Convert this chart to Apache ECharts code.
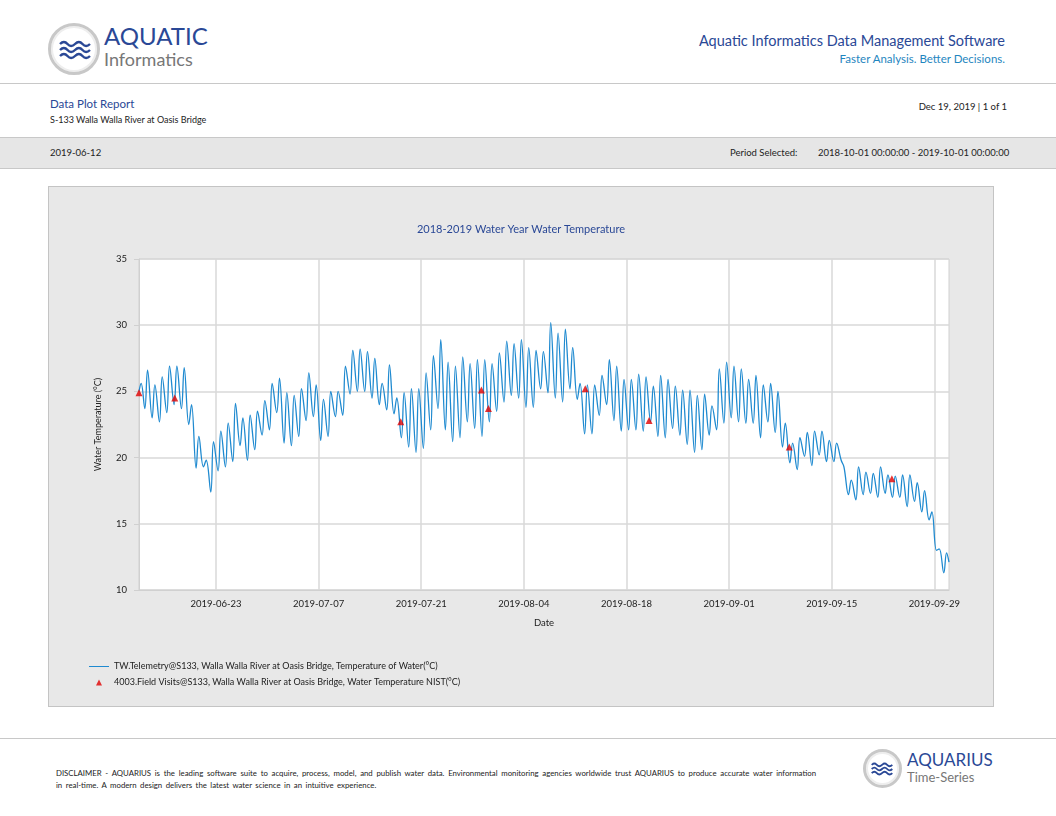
<!DOCTYPE html>
<html>
<head>
  <meta charset="utf-8">
  <title>Data Plot Report</title>
  <script src="https://cdn.jsdelivr.net/npm/echarts@6.0.0/dist/echarts.min.js"></script>
  <style>
    body { margin: 0; width: 1056px; height: 816px; background: #fff; font-family: Lato, 'Open Sans', sans-serif; position: relative; overflow: hidden; }
    .abs { position: absolute; white-space: nowrap; }
    .logo { width: 46px; height: 46px; border-radius: 50%; border: 3px solid #c8c8c8; background: #fff; box-shadow: inset 0 0 0 2px #eee; }
    .logo svg { position: absolute; left: 8px; top: 13px; }
    .blue { color: #2a4896; }
    #panel { left: 48px; top: 186px; width: 944px; height: 519px; background: #e8e8e8; border: 1px solid #c4c4c4; }
    #chart { left: 49px; top: 187px; width: 944px; height: 519px; }
  </style>
</head>
<body>
  <div class="abs logo" style="left:48px;top:23px;">
    <svg width="32" height="22" viewBox="0 0 32 22">
      <path d="M1 5 q4 -4 7.5 0 t7.5 0 t7.5 0 t7.5 0" stroke="#2a4896" stroke-width="2.4" fill="none"/>
      <path d="M1 11 q4 -4 7.5 0 t7.5 0 t7.5 0 t7.5 0" stroke="#2a4896" stroke-width="2.4" fill="none"/>
      <path d="M1 17 q4 -4 7.5 0 t7.5 0 t7.5 0 t7.5 0" stroke="#2a4896" stroke-width="2.4" fill="none"/>
    </svg>
  </div>
  <div class="abs blue" style="left:104px;top:22px;font-size:24px;line-height:28px;">AQUATIC</div>
  <div class="abs" style="left:104px;top:48px;font-size:18px;line-height:22px;color:#777;">Informatics</div>
  <div class="abs blue" style="right:51px;top:32px;font-size:14.5px;">Aquatic Informatics Data Management Software</div>
  <div class="abs" style="right:51px;top:52px;font-size:11.5px;color:#1f86c0;">Faster Analysis. Better Decisions.</div>
  <div class="abs" style="left:0;top:83px;width:1056px;height:1px;background:#c8c8c8;"></div>

  <div class="abs blue" style="left:50px;top:97px;font-size:11.5px;">Data Plot Report</div>
  <div class="abs" style="left:50px;top:114px;font-size:9px;color:#222;">S-133 Walla Walla River at Oasis Bridge</div>
  <div class="abs" style="right:49px;top:101px;font-size:9.5px;color:#222;">Dec 19, 2019 | 1 of 1</div>

  <div class="abs" style="left:0;top:137px;width:1056px;height:30px;background:#e6e6e6;border-top:1px solid #c8c8c8;border-bottom:1px solid #c8c8c8;"></div>
  <div class="abs" style="left:50px;top:147px;font-size:9.5px;color:#222;">2019-06-12</div>
  <div class="abs" style="left:730px;top:147px;font-size:9.5px;color:#222;">Period Selected:</div>
  <div class="abs" style="left:818px;top:147px;font-size:9.5px;color:#222;">2018-10-01 00:00:00 - 2019-10-01 00:00:00</div>

  <div class="abs" id="panel"></div>
  <div class="abs" id="chart"></div>

  <div class="abs" style="left:0;top:738px;width:1056px;height:1px;background:#c8c8c8;"></div>
  <div class="abs" style="left:56px;top:767px;width:760px;white-space:normal;text-align:justify;word-spacing:1.5px;font-size:7.8px;line-height:12px;color:#222;">DISCLAIMER - AQUARIUS is the leading software suite to acquire, process, model, and publish water data. Environmental monitoring agencies worldwide trust AQUARIUS to produce accurate water information in real-time. A modern design delivers the latest water science in an intuitive experience.</div>
  <div class="abs logo" style="left:863px;top:749px;width:33px;height:33px;">
    <svg width="22" height="16" viewBox="0 0 32 22" style="left:5px;top:9px;">
      <path d="M1 5 q4 -4 7.5 0 t7.5 0 t7.5 0 t7.5 0" stroke="#2a4896" stroke-width="2.6" fill="none"/>
      <path d="M1 11 q4 -4 7.5 0 t7.5 0 t7.5 0 t7.5 0" stroke="#2a4896" stroke-width="2.6" fill="none"/>
      <path d="M1 17 q4 -4 7.5 0 t7.5 0 t7.5 0 t7.5 0" stroke="#2a4896" stroke-width="2.6" fill="none"/>
    </svg>
  </div>
  <div class="abs blue" style="left:907px;top:750px;font-size:17px;line-height:19px;">AQUARIUS</div>
  <div class="abs" style="left:907px;top:770px;font-size:13px;line-height:15px;color:#777;">Time-Series</div>

  <script>
    // daily low (about 07:00) and high (about 16:00), from 2019-06-13
    const lows = [
      23.7, 23.0, 22.7, 23.4, 24.0, 23.7, 22.5, 19.2, 19.3, 17.4,   // Jun 13-22
      19.0, 19.3, 19.7, 20.9, 19.8, 20.6, 21.7, 22.1, 23.4, 21.1,   // Jun 23-Jul 2
      20.9, 21.6, 22.8, 23.1, 21.3, 21.6, 23.1, 23.2, 24.8, 25.0,   // Jul 3-12
      25.0, 24.5, 24.0, 23.6, 23.3, 21.5, 20.8, 20.4, 20.7, 22.1,   // Jul 13-22
      23.7, 22.1, 21.2, 21.5, 22.7, 22.2, 21.6, 22.7, 23.5, 24.2,   // Jul 23-Aug 1
      24.7, 24.5, 23.8, 23.8, 25.2, 24.9, 24.5, 24.2, 25.2, 24.4,   // Aug 2-11
      21.8, 21.8, 23.2, 24.0, 22.8, 22.0, 22.1, 22.1, 22.0, 22.7,   // Aug 12-21
      21.6, 21.5, 22.2, 21.7, 21.0, 20.4, 20.6, 21.7, 22.1, 22.6,   // Aug 22-31
      23.0, 22.7, 22.6, 22.6, 21.5, 22.7, 21.9, 20.8, 19.6, 19.1,   // Sep 1-10
      20.1, 19.4, 20.2, 19.7, 19.7, 19.8, 17.2, 16.8, 17.2, 17.3,   // Sep 11-20
      17.0, 17.3, 17.0, 17.0, 16.3, 16.7, 15.9, 15.3, 13.0, 11.3    // Sep 21-30
    ];
    const highs = [
      26.6, 25.5, 26.1, 26.9, 26.9, 26.8, 24.0, 21.6, 19.8, 21.2,
      22.0, 22.6, 24.1, 23.0, 23.2, 23.5, 24.3, 25.6, 26.0, 24.9,
      24.7, 25.2, 26.4, 25.5, 24.4, 25.0, 25.0, 26.9, 28.1, 28.2,
      28.0, 27.5, 25.6, 27.0, 24.5, 24.9, 25.2, 25.2, 26.4, 27.7,
      28.9, 27.2, 26.9, 27.6, 27.1, 27.4, 27.4, 27.1, 27.9, 28.8,
      28.6, 28.9, 28.3, 28.1, 28.0, 30.2, 29.4, 29.7, 28.3, 25.6,
      25.5, 25.5, 26.2, 27.4, 26.9, 25.9, 25.9, 26.3, 26.1, 25.4,
      26.2, 25.9, 25.4, 25.1, 25.1, 24.7, 24.8, 23.9, 26.7, 27.2,
      26.9, 26.7, 25.9, 26.2, 25.5, 25.6, 25.0, 22.6, 21.1, 21.5,
      21.9, 22.0, 22.0, 21.3, 21.1, 19.3, 18.3, 19.3, 18.9, 18.8,
      19.3, 18.7, 18.6, 18.7, 18.7, 18.1, 17.5, 15.9, 13.1, 12.8
    ];
    const H = 3600 * 1000, D = 24 * H;
    const t0 = Date.UTC(2019, 5, 13);
    const telemetry = [[Date.UTC(2019, 5, 12, 12), 25.0], [Date.UTC(2019, 5, 12, 19), 25.6]];
    lows.forEach((lo, i) => {
      telemetry.push([t0 + i * D + 7 * H, lo]);
      telemetry.push([t0 + i * D + 16 * H, highs[i]]);
    });
    telemetry.push([Date.UTC(2019, 9, 1), 12.1]);

    const visits = [
      ['2019-06-12T12:00', 24.9], ['2019-06-17T09:00', 24.5], ['2019-07-18T05:00', 22.7],
      ['2019-07-29T05:00', 25.1], ['2019-07-30T04:00', 23.7], ['2019-08-12T09:00', 25.2],
      ['2019-08-21T02:00', 22.8], ['2019-09-09T05:00', 20.8], ['2019-09-23T05:00', 18.4]
    ].map(v => [Date.parse(v[0] + ':00Z'), v[1]]);

    const ticks = [];
    for (let t = Date.UTC(2019, 5, 23); t <= Date.UTC(2019, 8, 29); t += 14 * D) ticks.push(t);
    const pad = n => (n < 10 ? '0' : '') + n;
    const fmt = v => { const d = new Date(v); return d.getUTCFullYear() + '-' + pad(d.getUTCMonth() + 1) + '-' + pad(d.getUTCDate()); };

    const chart = echarts.init(document.getElementById('chart'));
    chart.setOption({
      animation: false,
      textStyle: { fontFamily: 'Lato, sans-serif' },
      title: {
        text: '2018-2019 Water Year Water Temperature',
        left: 'center', top: 32,
        textStyle: { color: '#2a4896', fontSize: 11, fontWeight: 'normal' }
      },
      legend: {
        orient: 'vertical', left: 35, top: 470, itemGap: 7, itemWidth: 20, itemHeight: 6,
        textStyle: { fontSize: 9, color: '#222' },
        data: [
          { name: 'TW.Telemetry@S133, Walla Walla River at Oasis Bridge, Temperature of Water(°C)',
            icon: 'path://M0,4 L20,4 L20,5 L0,5 Z', itemStyle: { color: '#1f8ad0' } },
          { name: '4003.Field Visits@S133, Walla Walla River at Oasis Bridge, Water Temperature NIST(°C)',
            icon: 'path://M7,6 L10,0 L13,6 Z' }
        ]
      },
      grid: { left: 90, top: 72, right: 44, bottom: 116, show: true, backgroundColor: '#fff', borderColor: '#d0d0d0' },
      xAxis: {
        type: 'value',
        min: Date.UTC(2019, 5, 12, 12), max: Date.UTC(2019, 9, 1),
        name: 'Date', nameLocation: 'middle', nameGap: 28,
        nameTextStyle: { fontSize: 9.5, color: '#222' },
        axisLine: { lineStyle: { color: '#d0d0d0' } },
        axisTick: { show: false, customValues: ticks },
        axisLabel: { customValues: ticks, formatter: fmt, fontSize: 9.5, color: '#222', margin: 9 },
        splitLine: { show: true, lineStyle: { color: '#d8d8d8', width: 1.5 } }
      },
      yAxis: {
        type: 'value', min: 10, max: 35, interval: 5,
        name: 'Water Temperature (°C)', nameLocation: 'middle', nameGap: 36,
        nameTextStyle: { fontSize: 9, color: '#222' },
        axisLine: { show: true, lineStyle: { color: '#d0d0d0' } },
        axisLabel: { fontSize: 9.5, color: '#222', margin: 12 },
        splitLine: { lineStyle: { color: '#d8d8d8', width: 1.5 } }
      },
      series: [
        {
          name: 'TW.Telemetry@S133, Walla Walla River at Oasis Bridge, Temperature of Water(°C)',
          type: 'line', data: telemetry, smooth: 0.4, showSymbol: false,
          lineStyle: { color: '#1f8ad0', width: 1.3 }, itemStyle: { color: '#1f8ad0' }
        },
        {
          name: '4003.Field Visits@S133, Walla Walla River at Oasis Bridge, Water Temperature NIST(°C)',
          type: 'scatter', data: visits, symbol: 'triangle', symbolSize: 7,
          itemStyle: { color: '#e00000' }, z: 5
        }
      ]
    });
  </script>
</body>
</html>
